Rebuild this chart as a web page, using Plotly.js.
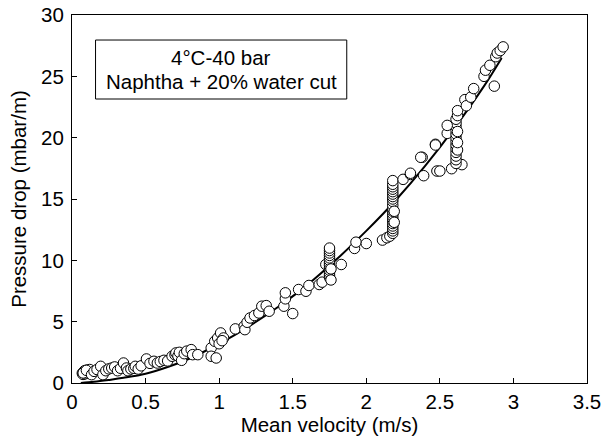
<!DOCTYPE html>
<html>
<head>
<meta charset="utf-8">
<script src="https://cdn.plot.ly/plotly-3.0.1.min.js"></script>
<style>html,body{margin:0;padding:0;background:#fff;}#chart{width:605px;height:445px;}</style>
</head>
<body>
<div id="chart"></div>
<script>
// Measured data points (mean velocity m/s, pressure drop mbar/m)
const velocity = [
  0.07,0.075,0.08,0.085,0.09,0.095,0.1,0.105,0.11,0.12,0.076,0.098,0.133,0.15,0.17,
  0.195,0.21,0.23,0.25,0.27,0.29,0.31,0.33,0.35,0.37,0.38,0.40,0.42,0.43,0.45,0.47,
  0.506,0.53,0.557,0.58,0.60,0.625,0.65,0.68,0.70,0.706,0.72,0.73,0.745,0.763,0.78,0.81,0.82,0.855,
  0.946,0.946,0.98,0.97,0.99,1.01,1.03,1.0,1.02,
  1.11,1.17,1.175,1.19,1.21,1.24,1.27,1.29,1.32,1.34,1.44,1.45,1.45,1.50,1.54,1.59,1.61,1.68,1.70,
  1.725,1.75,1.75,1.75,1.75,1.75,1.75,1.75,1.75,1.75,1.75,1.75,1.75,1.75,1.76,1.76,1.83,
  1.92,1.93,2.0,2.11,2.14,2.16,
  2.18,2.18,2.18,2.18,2.18,2.18,2.18,2.18,2.18,2.18,2.18,2.18,2.18,2.18,2.18,2.18,2.18,2.18,2.18,2.18,2.18,2.19,2.19,
  2.25,2.30,2.39,2.38,2.47,2.48,2.50,2.55,2.58,2.65,2.37,2.30,2.47,
  2.61,2.61,2.61,2.61,2.61,2.61,2.61,2.61,2.61,2.61,2.61,2.61,2.61,2.62,2.62,2.62,2.62,2.62,
  2.55,2.67,2.68,2.71,2.73,2.80,2.81,2.84,2.87,2.88,2.89,2.91,2.93
];
const pressureDrop = [
  0.8,0.7,0.9,1.0,0.75,0.85,1.05,0.9,0.8,1.1,0.82,1.03,0.68,0.95,1.1,
  1.36,0.68,1.0,1.15,1.22,1.31,1.0,1.2,1.63,1.22,1.0,1.14,1.2,1.36,1.14,1.4,
  1.96,1.6,1.77,1.63,1.75,1.85,1.8,2.18,2.3,2.45,2.2,2.5,1.85,2.39,2.6,2.72,2.31,2.31,
  2.86,2.18,2.04,3.4,3.67,4.08,3.67,3.2,3.45,
  4.41,4.63,4.35,4.95,5.3,5.5,5.71,6.26,6.31,5.85,6.26,6.86,7.35,5.66,7.62,7.48,7.95,8.03,8.22,
  9.66,8.6,8.8,9.0,9.2,9.4,9.6,9.8,10.0,10.2,10.4,10.6,10.8,11.0,8.4,9.3,9.66,
  10.97,11.48,11.37,11.65,11.84,11.97,
  12.2,12.4,12.6,12.8,13.0,13.2,13.4,13.6,13.8,14.0,14.2,14.5,14.8,15.0,15.2,15.4,15.6,15.8,16.0,16.2,16.5,13.1,14.0,
  16.6,17.0,16.9,18.4,19.46,17.28,17.28,20.35,17.47,17.8,18.4,17.1,19.4,
  17.9,18.2,18.5,18.8,19.1,19.4,19.7,20.0,20.3,20.6,20.9,21.2,21.5,21.8,22.2,19.0,19.6,20.5,
  21.0,23.1,22.6,23.3,24.0,25.0,25.5,25.9,24.2,26.6,26.9,27.1,27.4
];
// Fitted curve
const curveVelocity = [0.06,0.15,0.25,0.35,0.5,0.65,0.8,1.0,1.2,1.4,1.6,1.8,2.0,2.2,2.4,2.6,2.8,2.92];
const curvePressure = [0.0,0.1,0.25,0.42,0.75,1.3,2.0,3.2,4.6,6.2,8.0,10.1,12.4,14.9,17.7,20.8,24.2,26.5];
const boxLines = ['4°C-40 bar', 'Naphtha + 20% water cut'];

const labelFont = {family: 'Liberation Sans, Arial, sans-serif', size: 20.5, color: '#000'};

const traces = [
  {x: curveVelocity, y: curvePressure, type: 'scatter', mode: 'lines',
   line: {color: '#000', width: 2, shape: 'spline'}, hoverinfo: 'skip'},
  {x: velocity, y: pressureDrop, type: 'scatter', mode: 'markers',
   marker: {symbol: 'circle', size: 10.5, color: '#fff', line: {color: '#000', width: 1}}}
];

const axisCommon = {
  showgrid: false, zeroline: false, showline: true, mirror: true,
  linecolor: '#000', linewidth: 1, ticks: 'inside', ticklen: 5, tickcolor: '#000',
  tickfont: labelFont, automargin: false
};

const layout = {
  width: 605, height: 445,
  margin: {l: 72, r: 18, t: 15, b: 62},
  paper_bgcolor: '#fff', plot_bgcolor: '#fff',
  showlegend: false,
  font: labelFont,
  xaxis: Object.assign({}, axisCommon, {
    range: [0, 3.5], tick0: 0, dtick: 0.5,
    title: {text: 'Mean velocity (m/s)', font: labelFont, standoff: 0}
  }),
  yaxis: Object.assign({}, axisCommon, {
    range: [0, 30], tick0: 0, dtick: 5, ticklabelstandoff: 3,
    title: {text: 'Pressure drop (mbar/m)', font: labelFont, standoff: 8}
  }),
  shapes: [{type: 'rect', xref: 'paper', yref: 'paper',
    x0: 0.0457, x1: 0.5335, y0: 0.7717, y1: 0.932,
    line: {color: '#000', width: 1}, fillcolor: 'rgba(0,0,0,0)'}],
  annotations: [
    {xref: 'paper', yref: 'paper', x: 0.2896, y: 0.8832, xanchor: 'center', yanchor: 'middle',
     showarrow: false, text: boxLines[0], font: labelFont},
    {xref: 'paper', yref: 'paper', x: 0.2896, y: 0.818, xanchor: 'center', yanchor: 'middle',
     showarrow: false, text: boxLines[1], font: labelFont}
  ]
};

Plotly.newPlot('chart', traces, layout, {staticPlot: true, displayModeBar: false});
</script>
</body>
</html>
